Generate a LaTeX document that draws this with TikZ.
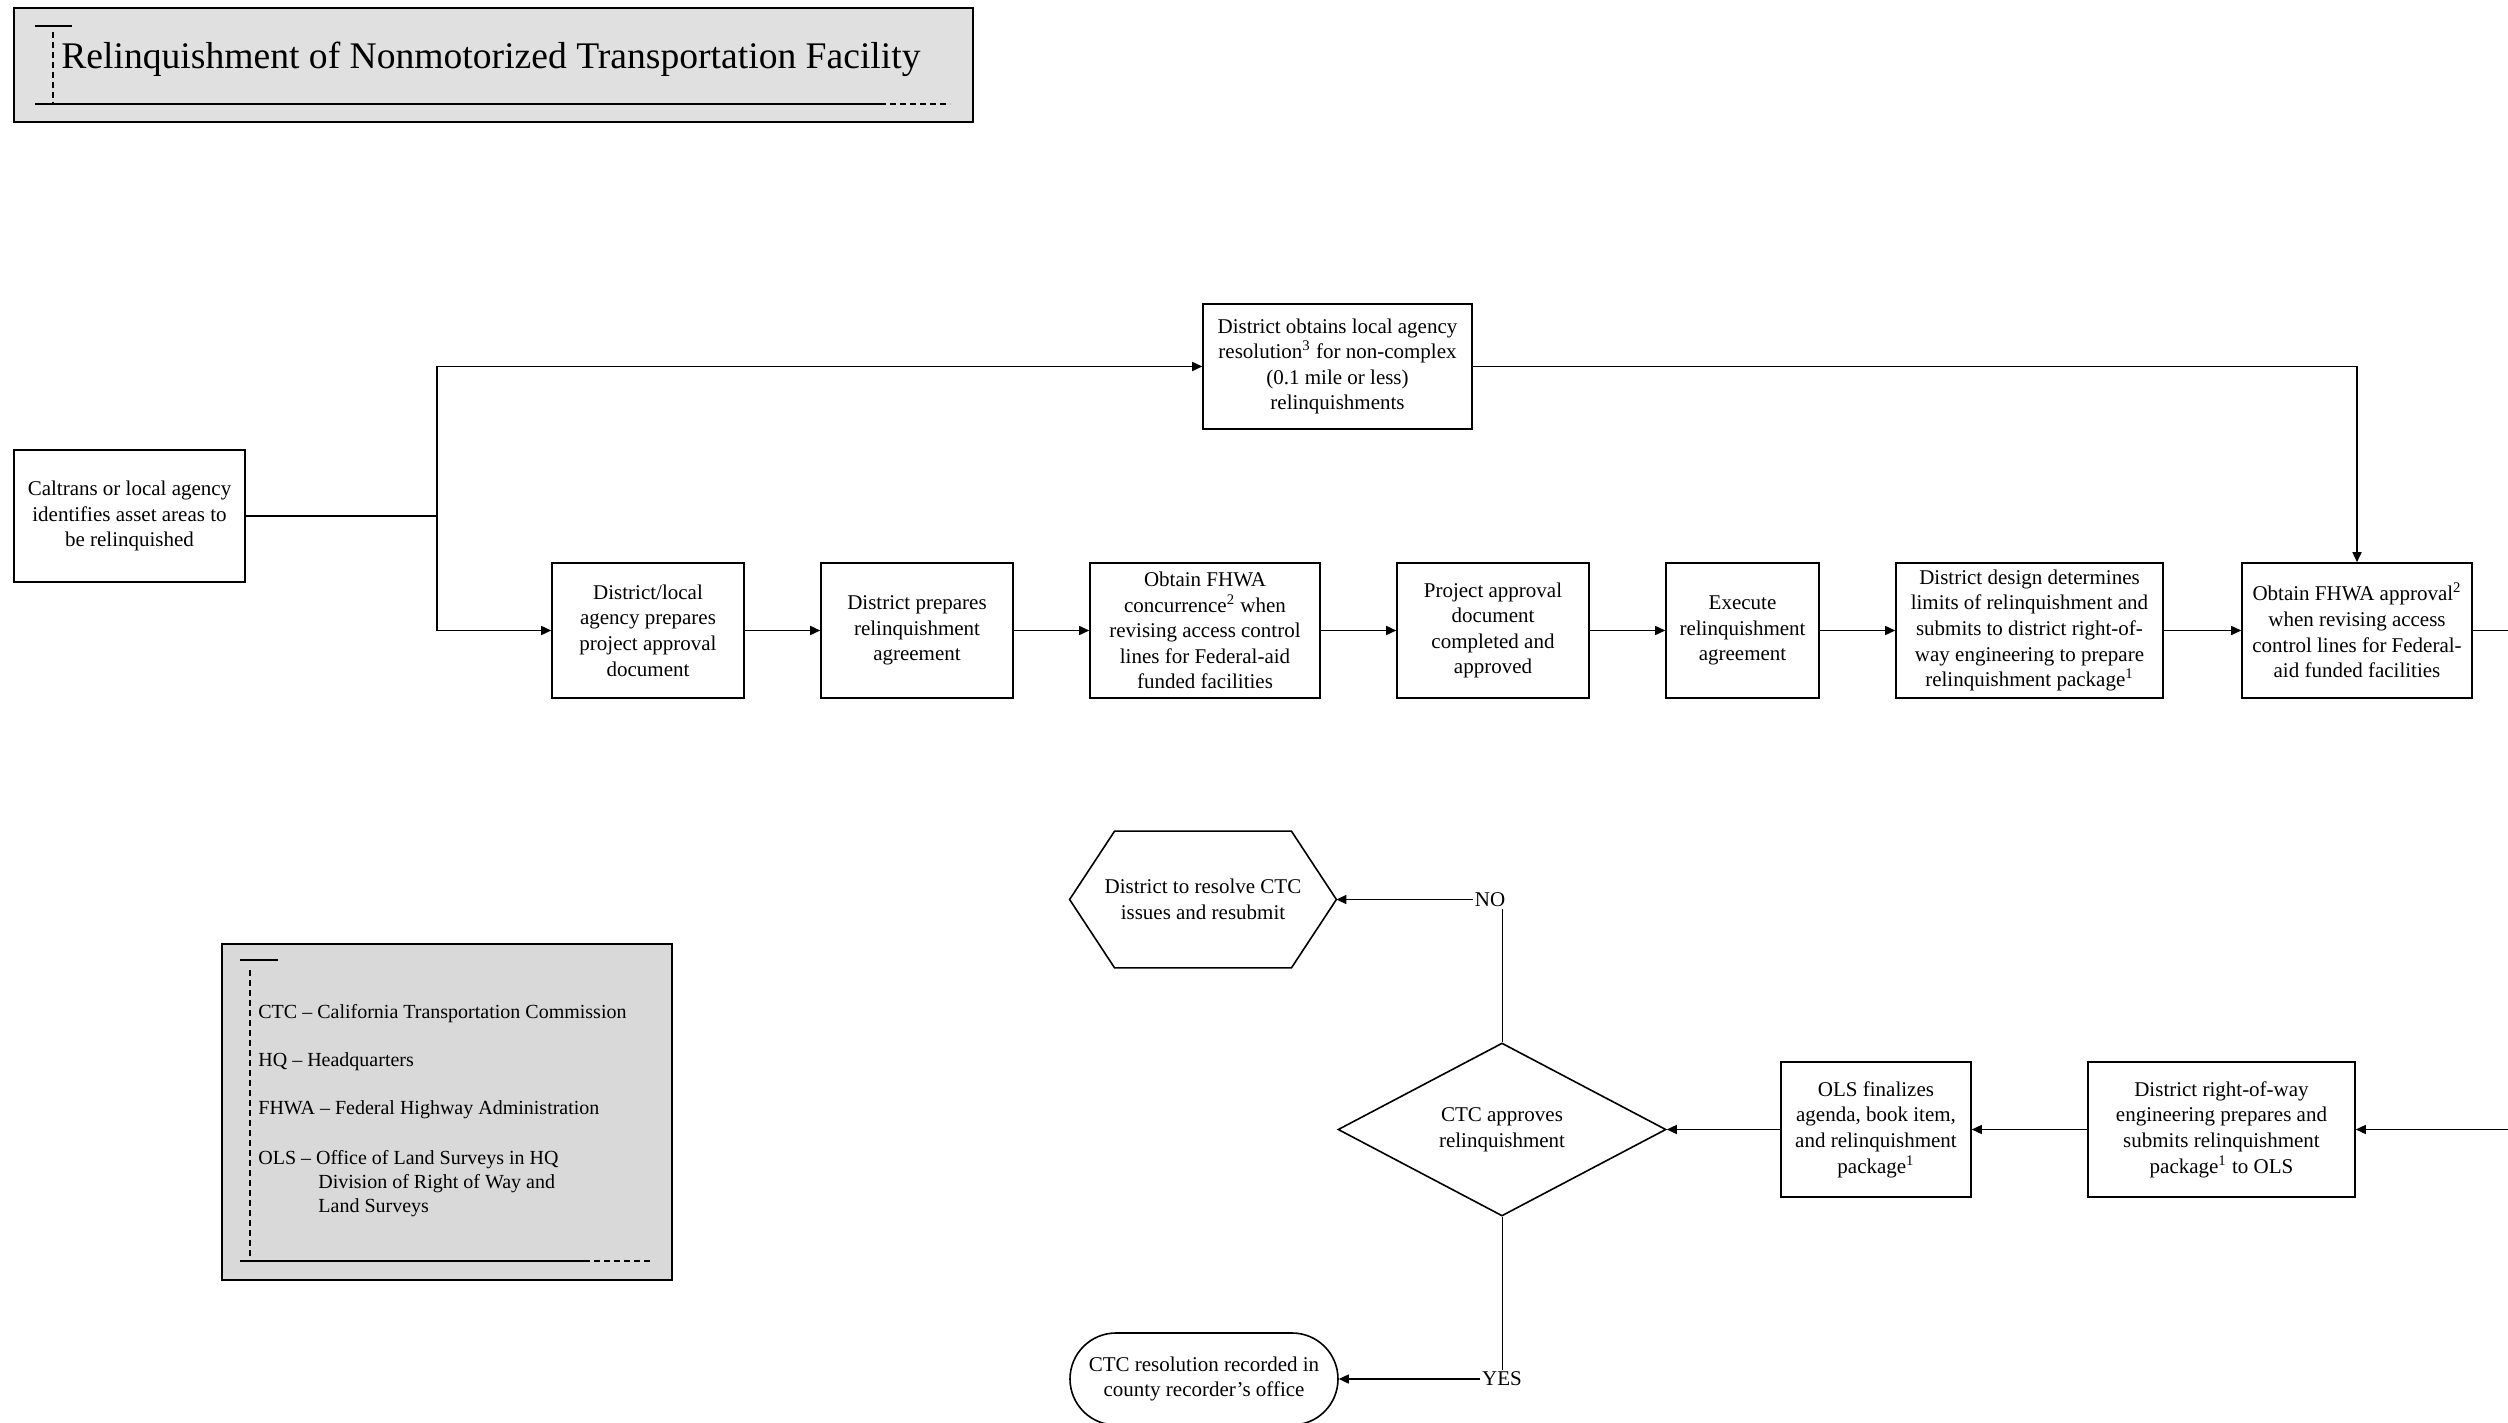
\documentclass[tikz,border=0pt]{standalone}
\usepackage{fontspec}
\setmainfont{Liberation Serif}
\usetikzlibrary{arrows.meta,shapes.geometric,shapes.misc,calc}
\definecolor{titlegray}{RGB}{224,224,224}
\definecolor{leggray}{RGB}{217,217,217}
\begin{document}
\begin{tikzpicture}[x=0.5pt,y=-0.5pt,
  box/.style={draw,line width=0.8pt,align=center,inner sep=1pt,minimum height=67.5pt,font=\fontsize{10.5}{12.8}\selectfont},
  conn/.style={line width=0.8pt},
  arr/.style={conn,-{Triangle[length=5pt,width=4.5pt]}},
  thinline/.style={line width=0.5pt},
  lbl/.style={inner sep=0.8pt,font=\fontsize{10.5}{12.8}\selectfont},
  legtext/.style={anchor=west,inner sep=0pt,font=\fontsize{10}{12}\selectfont},
  deco/.style={line width=0.7pt},
  decodash/.style={line width=0.7pt,dash pattern=on 3pt off 2pt}
]
\useasboundingbox (0,0) rectangle (2508,1423);

% title block
\node[draw,line width=0.8pt,fill=titlegray,minimum width=479.5pt,minimum height=57pt,inner sep=0pt] (titlebox) at (493.5,65) {};
\node[anchor=west,inner sep=0pt,font=\fontsize{18.8}{22}\selectfont] (title) at (61,59) {Relinquishment of Nonmotorized Transportation Facility};
\draw[deco] (35,26) -- (72,26);
\draw[decodash] (53,32) -- (53,104);
\draw[deco] (35,104) -- (880,104);
\draw[decodash] (880,104) -- (950,104);

% legend
\node[draw,line width=0.8pt,fill=leggray,minimum width=225pt,minimum height=168pt,inner sep=0pt] (legbox) at (447,1112) {};
\draw[deco] (240,960) -- (278,960);
\draw[decodash] (250,970) -- (250,1261);
\draw[deco] (240,1261) -- (584,1261);
\draw[decodash] (584,1261) -- (650,1261);
\node[legtext] (leg1) at (258,1014) {CTC – California Transportation Commission};
\node[legtext] (leg2) at (258,1062) {HQ – Headquarters};
\node[legtext] (leg3) at (258,1110) {FHWA – Federal Highway Administration};
\node[legtext] (leg4) at (258,1160) {OLS – Office of Land Surveys in HQ};
\node[legtext] (leg5) at (318,1184) {Division of Right of Way and};
\node[legtext] (leg6) at (318,1208) {Land Surveys};

% top part
\node[box,minimum width=115.5pt,minimum height=66pt] (cal) at (129.5,516) {Caltrans or local agency\\identifies asset areas to\\be relinquished};
\node[box,minimum width=134.5pt,minimum height=62.5pt] (res) at (1337.5,366.5) {District obtains local agency\\resolution\textsuperscript{3} for non-complex\\(0.1 mile or less)\\relinquishments};

\node[box,minimum width=96pt] (b1) at (648,630.5) {District/local\\agency prepares\\project approval\\document};
\node[box,minimum width=96pt] (b2) at (917,630.5) {District prepares\\relinquishment\\agreement};
\node[box,minimum width=115pt] (b3) at (1205,630.5) {Obtain FHWA\\concurrence\textsuperscript{2} when\\revising access control\\lines for Federal-aid\\funded facilities};
\node[box,minimum width=96pt] (b4) at (1493,630.5) {Project approval\\document\\completed and\\approved};
\node[box,minimum width=76.5pt] (b5) at (1742.5,630.5) {Execute\\relinquishment\\agreement};
\node[box,minimum width=133.5pt] (b6) at (2029.5,630.5) {District design determines\\limits of relinquishment and\\submits to district right-of-\\way engineering to prepare\\relinquishment package\textsuperscript{1}};
\node[box,minimum width=115pt] (b7) at (2357,630.5) {Obtain FHWA approval\textsuperscript{2}\\when revising access\\control lines for Federal-\\aid funded facilities};

% lower part
\node[box,minimum width=133.5pt] (d1) at (2221.5,1129.5) {District right-of-way\\engineering prepares and\\submits relinquishment\\package\textsuperscript{1} to OLS};
\node[box,minimum width=95pt] (ols) at (1876,1129.5) {OLS finalizes\\agenda, book item,\\and relinquishment\\package\textsuperscript{1}};
\node[draw,diamond,line width=0.8pt,minimum width=164pt,minimum height=86.5pt,inner sep=0pt,align=center,font=\fontsize{10.5}{12.8}\selectfont] (ctc) at (1502,1129.5) {CTC approves\\relinquishment};
\node[minimum width=133pt,minimum height=68pt,inner sep=0pt,align=center,font=\fontsize{10.5}{12.8}\selectfont] (hexn) at (1203,899.5) {District to resolve CTC\\issues and resubmit};
\draw[line width=0.8pt] (hexn.west) -- ($(hexn.north west)+(45,0)$) -- ($(hexn.north east)+(-45,0)$) -- (hexn.east) -- ($(hexn.south east)+(-45,0)$) -- ($(hexn.south west)+(45,0)$) -- cycle;
\node[draw,rounded rectangle,line width=0.8pt,minimum width=134pt,minimum height=46pt,inner sep=0pt,align=center,font=\fontsize{10.5}{12.8}\selectfont] (term) at (1204,1379) {CTC resolution recorded in\\county recorder’s office};
\node[lbl] (no) at (1490,899.5) {NO};
\node[lbl] (yes) at (1502,1379) {YES};

% connectors
\coordinate (split) at (437,516);
\draw[conn] (cal.east) -- (split);
\draw[arr] (split) |- (res.west);
\draw[arr] (split) |- (b1.west);
\draw[arr] (b1.east) -- (b2.west);
\draw[arr] (b2.east) -- (b3.west);
\draw[arr] (b3.east) -- (b4.west);
\draw[arr] (b4.east) -- (b5.west);
\draw[arr] (b5.east) -- (b6.west);
\draw[arr] (b6.east) -- (b7.west);
\draw[arr] (res.east) -| (b7.north);
\coordinate (outA) at (2508,630.5);
\draw[conn] (b7.east) -- (outA);
\coordinate (inB) at (2508,1129.5);
\draw[arr] (inB) -- (d1.east);
\draw[arr] (d1.west) -- (ols.east);
\draw[arr] (ols.west) -- (ctc.east);
\draw[thinline] (ctc.north) -- (ctc.north |- no.south);
\draw[arr] (no.west) -- (hexn.east);
\draw[thinline] (ctc.south) -- (ctc.south |- yes.north);
\draw[arr] (yes.west) -- (term.east);
\end{tikzpicture}
\end{document}
